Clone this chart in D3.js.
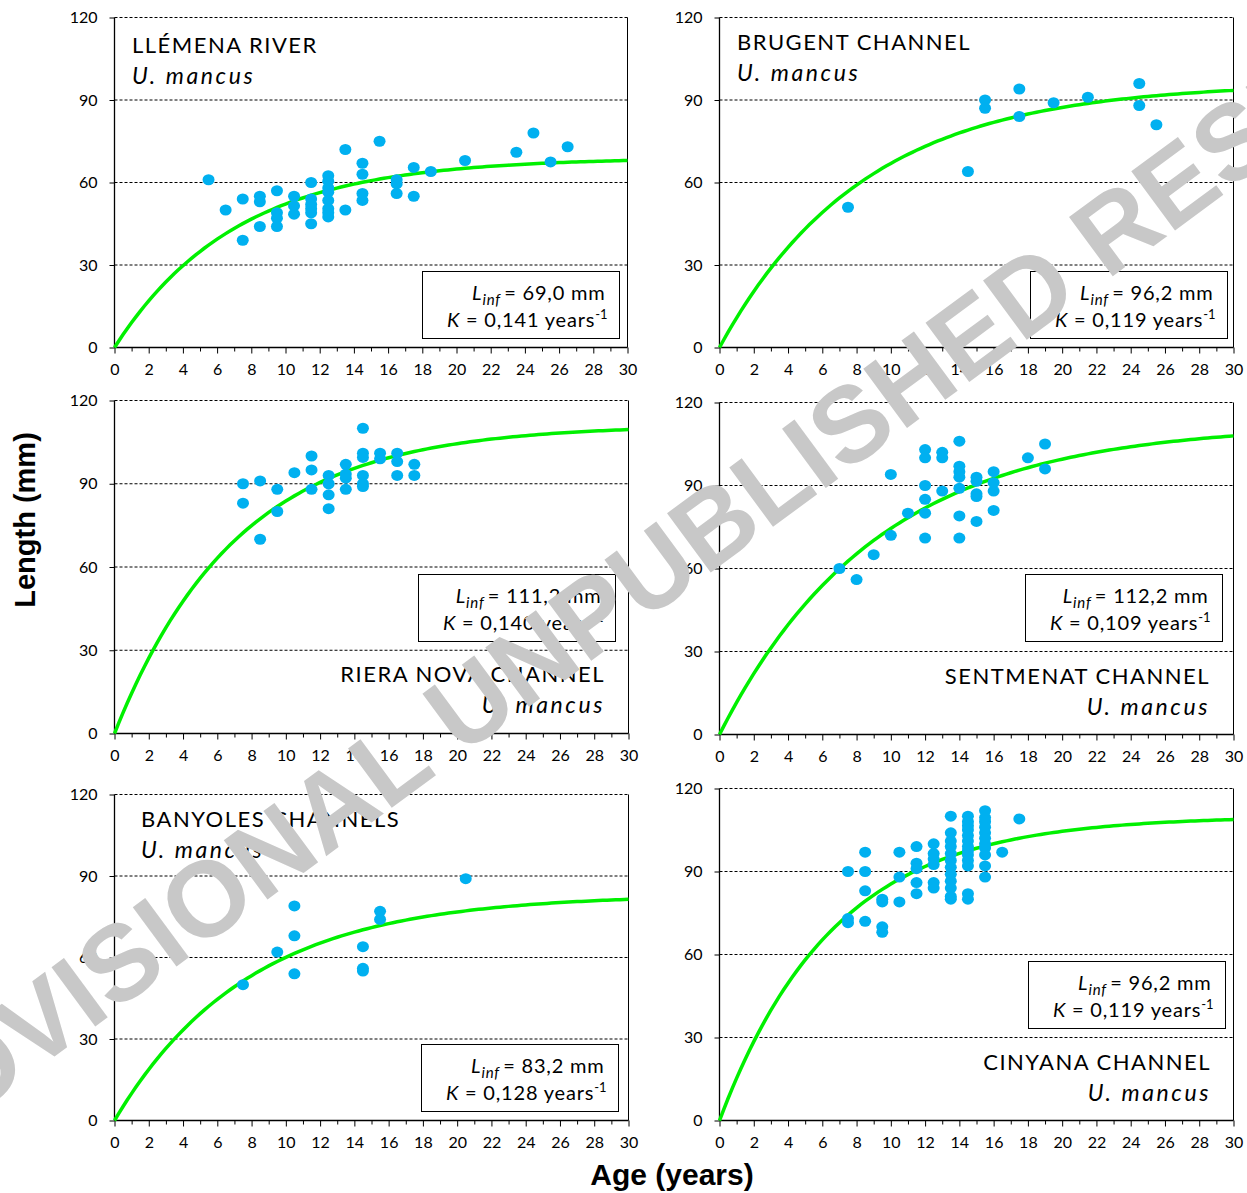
<!DOCTYPE html>
<html>
<head>
<meta charset="utf-8">
<script src="https://cdn.jsdelivr.net/npm/d3@7"></script>
<style>
  body { margin: 0; background: #fff; }
  svg { display: block; font-family: Lato, "Open Sans", sans-serif; }
  .tick text { font-family: Lato, sans-serif; font-size: 16px; fill: #000; }
  .tick line { stroke: #000; }
  .domain { display: none; }
</style>
</head>
<body>
<script>
// data
const sites = ["LLÉMENA RIVER", "BRUGENT CHANNEL", "RIERA NOVA CHANNEL", "SENTMENAT CHANNEL", "BANYOLES CHANNELS", "CINYANA CHANNEL"];
const species = "U. mancus";
const linfLabels = ["69,0", "96,2", "111,2", "112,2", "83,2", "96,2"];
const kLabels = ["0,141", "0,119", "0,140", "0,109", "0,128", "0,119"];
// growth curve parameters (Von Bertalanffy) as drawn
const curveLinf = [69.0, 96.2, 111.2, 112.2, 83.2, 110.0];
const curveK = [0.141, 0.119, 0.140, 0.109, 0.128, 0.150];
const yTicks = [0, 30, 60, 90, 120];

const llemenaPoints = [[5.5,61],[6.5,50],[7.5,54],[7.5,39],[8.5,55],[8.5,53],[8.5,44],[9.5,57],[9.5,49],[9.5,47],[9.5,44],
  [10.5,55],[10.5,51.5],[10.5,48.5],[11.5,60],[11.5,54],[11.5,52],[11.5,50.5],[11.5,49],[11.5,45],
  [12.5,62.5],[12.5,60.5],[12.5,58],[12.5,56.5],[12.5,53.5],[12.5,50.5],[12.5,49],[12.5,47.5],[13.5,72],[13.5,50],
  [14.5,67],[14.5,63],[14.5,56],[14.5,53.5],[15.5,75],[16.5,61],[16.5,59.5],[16.5,56],[17.5,65.5],[17.5,55],
  [18.5,64],[20.5,68],[23.5,71],[24.5,78],[25.5,67.5],[26.5,73]];
const brugentPoints = [[7.5,51],[14.5,64],[15.5,90],[15.5,87],[17.5,94],[17.5,84],[19.5,89],[21.5,91],[24.5,96],[24.5,88],[25.5,81]];
const rieraPoints = [[7.5,90],[7.5,83],[8.5,91],[8.5,70],[9.5,88],[9.5,80],[10.5,94],[11.5,100],[11.5,95],[11.5,88],
  [12.5,93],[12.5,90],[12.5,86],[12.5,81],[13.5,97],[13.5,93.5],[13.5,92],[13.5,88],
  [14.5,110],[14.5,101],[14.5,99.5],[14.5,93],[14.5,90],[14.5,89],[15.5,101],[15.5,99],
  [16.5,101],[16.5,98],[16.5,93],[17.5,97],[17.5,93]];
const sentmenatPoints = [[7,60],[8,56],[9,65],[10,72],[10,94],[11,80],[12,103],[12,100],[12,90],[12,85],[12,80],[12,71],
  [13,102],[13,100],[13,88],[14,106],[14,97],[14,95],[14,93],[14,89],[14,79],[14,71],
  [15,93],[15,91.5],[15,87],[15,86],[15,77],[16,95],[16,91],[16,88],[16,81],[18,100],[19,105],[19,96]];
const banyolesPoints = [[7.5,50],[9.5,62],[10.5,79],[10.5,68],[10.5,54],[14.5,64],[14.5,56],[14.5,55],[15.5,77],[15.5,74],[20.5,89]];
const cinyanaPoints = [[7.5,90],[7.5,73],[7.5,71.5],[8.5,97],[8.5,90],[8.5,83],[8.5,72],[9.5,80],[9.5,79],[9.5,70],[9.5,68],
  [10.5,97],[10.5,88],[10.5,79],[11.5,99],[11.5,93],[11.5,91],[11.5,86],[11.5,82],
  [12.5,100],[12.5,96.5],[12.5,94.5],[12.5,92.5],[12.5,86],[12.5,84],
  [13.5,110],[13.5,104],[13.5,101],[13.5,99],[13.5,96.5],[13.5,94],[13.5,91.5],[13.5,89],[13.5,86.5],[13.5,84],[13.5,81],[13.5,80],
  [14.5,110],[14.5,108],[14.5,106.5],[14.5,105],[14.5,103],[14.5,101],[14.5,99],[14.5,97.5],[14.5,96],[14.5,94],[14.5,92],[14.5,82],[14.5,80],
  [15.5,112],[15.5,109.5],[15.5,108],[15.5,106],[15.5,104],[15.5,102],[15.5,100],[15.5,98.5],[15.5,96],[15.5,92],[15.5,88],
  [16.5,97],[17.5,109]];
const pointSets = [llemenaPoints, brugentPoints, rieraPoints, sentmenatPoints, banyolesPoints, cinyanaPoints];

// layout of the six plot areas
const layout = [
  {left: 114.5, right: 627.5, top: 17.5, bottom: 347.5, title: "top", tx: 132, ty: 53, box: [422.5, 271.5]},
  {left: 719.5, right: 1233.5, top: 17.5, bottom: 347.5, title: "top", tx: 737, ty: 50, box: [1030.5, 271.5]},
  {left: 114.5, right: 628.5, top: 400.5, bottom: 733.5, title: "bottom", tx: 605, ty: 682, box: [418.5, 574.5]},
  {left: 719.5, right: 1233.5, top: 402.5, bottom: 734.5, title: "bottom", tx: 1210, ty: 684, box: [1025.5, 574.5]},
  {left: 114.5, right: 628.5, top: 794.5, bottom: 1120.5, title: "top", tx: 141, ty: 827, box: [421.5, 1044.5]},
  {left: 719.5, right: 1233.5, top: 788.5, bottom: 1120.5, title: "bottom", tx: 1211, ty: 1070, box: [1028.5, 961.5]}
];
const boxW = 197, boxH = 67;

const width = 1247, height = 1193;
const svg = d3.select("body").append("svg")
  .attr("width", width)
  .attr("height", height);

svg.append("rect").attr("width", width).attr("height", height).attr("fill", "#fff");

layout.forEach((L, i) => {
  const x = d3.scaleLinear().domain([0, 30]).range([L.left, L.right]);
  const y = d3.scaleLinear().domain([0, 120]).range([L.bottom, L.top]);
  const g = svg.append("g").attr("class", "panel");

  // gridlines
  g.selectAll(".grid")
    .data(yTicks.filter(d => d > 0)).enter()
    .append("line")
      .attr("x1", x(0)).attr("x2", x(30))
      .attr("y1", d => y(d)).attr("y2", d => y(d))
      .attr("stroke", "#000")
      .attr("stroke-width", 1)
      .attr("stroke-dasharray", "3,2");

  // frame
  g.append("line").attr("x1", x(30)).attr("x2", x(30)).attr("y1", y(0)).attr("y2", y(120)).attr("stroke", "#000");
  g.append("line").attr("x1", x(0)).attr("x2", x(0)).attr("y1", y(0)).attr("y2", y(120)).attr("stroke", "#000").attr("stroke-width", 1.3);
  g.append("line").attr("x1", x(0)).attr("x2", x(30)).attr("y1", y(0)).attr("y2", y(0)).attr("stroke", "#000").attr("stroke-width", 1.3);

  // axes
  g.append("g")
    .attr("transform", `translate(0,${y(0)})`)
    .call(d3.axisBottom(x).tickValues(d3.range(1, 30, 2)).tickSize(4).tickFormat(""));
  g.append("g")
    .attr("transform", `translate(0,${y(0)})`)
    .call(d3.axisBottom(x).tickValues(d3.range(0, 31, 2)).tickSize(6).tickPadding(10));
  g.append("g")
    .attr("transform", `translate(${x(0)},0)`)
    .call(d3.axisLeft(y).tickValues(yTicks).tickSize(5).tickPadding(12));

  // growth curve
  const ages = d3.range(0, 30.01, 0.25);
  const line = d3.line()
    .x(t => x(t))
    .y(t => y(curveLinf[i] * (1 - Math.exp(-curveK[i] * t))));
  g.append("path")
    .datum(ages)
    .attr("d", line)
    .attr("fill", "none")
    .attr("stroke", "#00f000")
    .attr("stroke-width", 3.5);

  // points
  g.selectAll(".pt")
    .data(pointSets[i]).enter()
    .append("ellipse")
      .attr("cx", d => x(d[0]))
      .attr("cy", d => y(d[1]))
      .attr("rx", 6)
      .attr("ry", 5.5)
      .attr("fill", "#00b0f0");

  // site title
  const anchor = L.title === "top" ? "start" : "end";
  g.append("text")
    .attr("x", L.tx).attr("y", L.ty)
    .attr("text-anchor", anchor)
    .attr("font-size", 22)
    .attr("letter-spacing", 1.5)
    .text(sites[i]);
  g.append("text")
    .attr("x", L.tx).attr("y", L.ty + 31)
    .attr("text-anchor", anchor)
    .attr("font-size", 23)
    .attr("font-style", "italic")
    .attr("letter-spacing", 2.6)
    .text(species);

  // parameter box
  const bx = L.box[0], by = L.box[1];
  g.append("rect")
    .attr("x", bx).attr("y", by)
    .attr("width", boxW).attr("height", boxH)
    .attr("fill", "#fff")
    .attr("stroke", "#000");
  const t1 = g.append("text")
    .attr("x", bx + boxW - 14).attr("y", by + 28)
    .attr("text-anchor", "end")
    .attr("font-size", 20)
    .attr("letter-spacing", 0.8);
  t1.append("tspan").attr("font-style", "italic").text("L");
  t1.append("tspan").attr("font-style", "italic").attr("font-size", 15).attr("dy", 5).text("inf");
  t1.append("tspan").attr("dy", -5).text(`\u2009= ${linfLabels[i]} mm`);
  const t2 = g.append("text")
    .attr("x", bx + boxW - 12).attr("y", by + 55)
    .attr("text-anchor", "end")
    .attr("font-size", 20)
    .attr("letter-spacing", 0.8);
  t2.append("tspan").attr("font-style", "italic").text("K");
  t2.append("tspan").text(` = ${kLabels[i]} years`);
  t2.append("tspan").attr("font-size", 13).attr("dy", -8).attr("letter-spacing", 0).text("-1");
});

// axis titles
svg.append("text")
  .attr("transform", "translate(35,520) rotate(-90)")
  .attr("text-anchor", "middle")
  .attr("font-family", "Liberation Sans, Arial, sans-serif")
  .attr("font-weight", "bold")
  .attr("font-size", 29)
  .text("Length (mm)");
svg.append("text")
  .attr("x", 672).attr("y", 1185)
  .attr("text-anchor", "middle")
  .attr("font-family", "Liberation Sans, Arial, sans-serif")
  .attr("font-weight", "bold")
  .attr("font-size", 30)
  .text("Age (years)");

// watermark
svg.append("text")
  .attr("transform", "translate(652,570) rotate(-36.4)")
  .attr("text-anchor", "middle")
  .attr("dominant-baseline", "central")
  .attr("font-family", "Liberation Sans, Arial, sans-serif")
  .attr("font-weight", "bold")
  .attr("font-size", 107)
  .attr("fill", "#c8c8c8")
  .text("PROVISIONAL UNPUBLISHED RESULTS");
</script>
</body>
</html>
